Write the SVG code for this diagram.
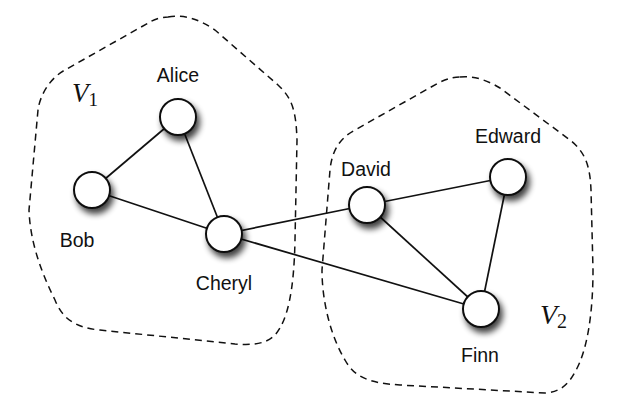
<svg xmlns="http://www.w3.org/2000/svg" width="634" height="402" viewBox="0 0 634 402">
<defs>
<filter id="sh" x="-50%" y="-50%" width="200%" height="200%">
<feGaussianBlur in="SourceAlpha" stdDeviation="3"/>
<feOffset dx="3" dy="5" result="b"/>
<feComponentTransfer><feFuncA type="linear" slope="0.75"/></feComponentTransfer>
<feMerge><feMergeNode/><feMergeNode in="SourceGraphic"/></feMerge>
</filter>
</defs>
<style>
.hull{fill:none;stroke:#111;stroke-width:1.5;stroke-dasharray:7,5}
.edge{stroke:#111;stroke-width:1.7;fill:none}
.node circle{fill:#fff;stroke:#111;stroke-width:2;filter:url(#sh)}
.lbl{font-family:"Liberation Sans",Arial,sans-serif;font-size:19.5px;fill:#111;text-anchor:middle}
.set{font-family:"Liberation Serif","Times New Roman",serif;fill:#111}
</style>
<rect width="634" height="402" fill="#fff"/>
<g id="hulls">
<path class="hull" d="M 168,17 C 185,14 200,20 215,30 L 278,85 C 292,98 296,110 297,140 L 295,240 C 294,290 288,320 275,335 C 265,345 250,345 235,344 L 100,330 C 75,328 62,318 55,300 C 40,270 30,240 29,210 L 38,110 C 40,95 50,78 65,70 L 150,22 C 155,19 162,17 168,17 Z"/>
<path class="hull" d="M 460,77 C 475,75 490,82 500,88 L 570,140 C 585,152 590,165 591,190 L 593,270 C 593,310 588,350 575,372 C 568,385 560,392 545,393 L 400,385 C 370,383 355,378 345,360 C 330,335 322,300 322,270 L 330,170 C 332,150 340,138 355,130 L 440,82 C 447,79 453,77 460,77 Z"/>
</g>
<g id="set-labels">
<text class="set" x="72" y="102"><tspan font-style="italic" font-size="27">V</tspan><tspan font-size="19" dy="4">1</tspan></text>
<text class="set" x="540" y="324"><tspan font-style="italic" font-size="28">V</tspan><tspan font-size="20" dy="4">2</tspan></text>
</g>
<g id="connectors">
<line class="edge" x1="92" y1="190" x2="178" y2="117"/>
<line class="edge" x1="178" y1="117" x2="224" y2="234"/>
<line class="edge" x1="92" y1="190" x2="224" y2="234"/>
<line class="edge" x1="224" y1="234" x2="367" y2="205"/>
<line class="edge" x1="224" y1="234" x2="481" y2="309"/>
<line class="edge" x1="367" y1="205" x2="508" y2="177"/>
<line class="edge" x1="367" y1="205" x2="481" y2="309"/>
<line class="edge" x1="508" y1="177" x2="481" y2="309"/>
</g>
<g id="alice" class="node"><circle cx="178" cy="117" r="18"/><text class="lbl" x="178" y="82">Alice</text></g>
<g id="bob" class="node"><circle cx="92" cy="190" r="18"/><text class="lbl" x="77" y="247">Bob</text></g>
<g id="cheryl" class="node"><circle cx="224" cy="234" r="18"/><text class="lbl" x="224" y="290">Cheryl</text></g>
<g id="david" class="node"><circle cx="367" cy="205" r="18"/><text class="lbl" x="366" y="176">David</text></g>
<g id="edward" class="node"><circle cx="508" cy="177" r="18"/><text class="lbl" x="508" y="143">Edward</text></g>
<g id="finn" class="node"><circle cx="481" cy="309" r="18"/><text class="lbl" x="480" y="362">Finn</text></g>
</svg>
